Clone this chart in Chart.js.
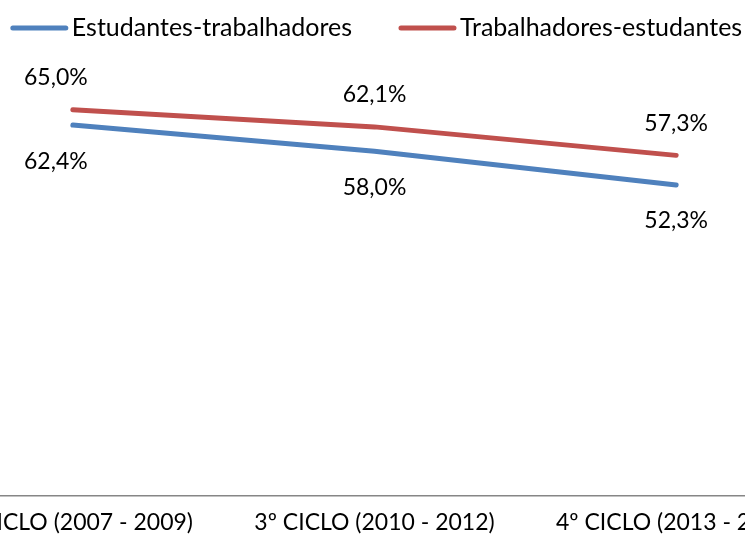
<!DOCTYPE html>
<html>
<head>
<meta charset="utf-8">
<script src="https://cdn.jsdelivr.net/npm/chart.js@4"></script>
<style>
    html, body { margin: 0; padding: 0; background: #fff; }
    .frame { position: relative; width: 745px; height: 542px; overflow: hidden; }
    .frame canvas { position: absolute; left: -78px; top: 0; }
</style>
</head>
<body>
<div class="frame">
    <canvas id="ciclos-chart" width="905" height="557"></canvas>
</div>
<script>
// Data
const categories = ['2º CICLO (2007 - 2009)', '3º CICLO (2010 - 2012)', '4º CICLO (2013 - 2015)'];
const estudantesTrabalhadores = [62.4, 58.0, 52.3];
const trabalhadoresEstudantes = [65.0, 62.1, 57.3];
const seriesNames = ['Estudantes-trabalhadores', 'Trabalhadores-estudantes'];

const FONT = 'Lato, "Open Sans", sans-serif';
const BLUE = '#4F81BD';
const RED = '#C0504D';

/* =====================================================
   Legend drawn at the top, Excel style (line + text)
   ===================================================== */
const lineLegend = {
    id: 'lineLegend',
    afterDraw(chart) {
        const ctx = chart.ctx;
        const lineW = 57, gap = 4, itemGap = 47, y = 28;
        ctx.save();
        ctx.font = '25px ' + FONT;
        const items = chart.data.datasets.map(ds => ({
            text: ds.label, color: ds.borderColor, w: ctx.measureText(ds.label).width
        }));
        let total = items.reduce((s, it) => s + lineW + gap + it.w, 0) + itemGap * (items.length - 1);
        let x = chart.width / 2 - total / 2 + 2;
        items.forEach(it => {
            ctx.strokeStyle = it.color;
            ctx.lineWidth = 5;
            ctx.lineCap = 'round';
            ctx.beginPath();
            ctx.moveTo(x + 2, y);
            ctx.lineTo(x + lineW - 2, y);
            ctx.stroke();
            ctx.fillStyle = '#000';
            ctx.textBaseline = 'middle';
            ctx.textAlign = 'left';
            ctx.fillText(it.text, x + lineW + gap, y);
            x += lineW + gap + it.w + itemGap;
        });
        ctx.restore();
    }
};

/* =====================================================
   Value labels: blue below the point, red above
   ===================================================== */
const valueLabels = {
    id: 'valueLabels',
    afterDatasetsDraw(chart) {
        const ctx = chart.ctx;
        ctx.save();
        ctx.font = '23px ' + FONT;
        ctx.fillStyle = '#000';
        ctx.textAlign = 'center';
        ctx.textBaseline = 'middle';
        chart.data.datasets.forEach((ds, i) => {
            const dy = i === 0 ? 36 : -32;
            chart.getDatasetMeta(i).data.forEach((pt, j) => {
                const dx = j === 0 ? -17 : 0;
                const txt = ds.data[j].toFixed(1).replace('.', ',') + '%';
                ctx.fillText(txt, pt.x + dx, pt.y + dy);
            });
        });
        ctx.restore();
    }
};

const ctx = document.getElementById('ciclos-chart').getContext('2d');
new Chart(ctx, {
    type: 'line',
    data: {
        labels: categories,
        datasets: [{
            label: seriesNames[0],
            data: estudantesTrabalhadores,
            borderColor: BLUE,
            backgroundColor: BLUE,
            borderWidth: 5,
            borderCapStyle: 'round',
            pointRadius: 0,
            tension: 0
        }, {
            label: seriesNames[1],
            data: trabalhadoresEstudantes,
            borderColor: RED,
            backgroundColor: RED,
            borderWidth: 5,
            borderCapStyle: 'round',
            pointRadius: 0,
            tension: 0
        }]
    },
    options: {
        responsive: false,
        animation: false,
        layout: { padding: { top: 80, bottom: 8, left: 0, right: 0 } },
        plugins: {
            legend: { display: false },
            tooltip: { enabled: false }
        },
        scales: {
            x: {
                offset: true,
                grid: { display: true, drawOnChartArea: false, drawTicks: false, color: 'rgba(0,0,0,0)' },
                border: { display: true, color: '#868686', width: 1.5 },
                ticks: { font: { family: FONT, size: 23 }, color: '#000', padding: 13, maxRotation: 0, autoSkip: false }
            },
            y: {
                display: false,
                min: 0,
                max: 70
            }
        }
    },
    plugins: [lineLegend, valueLabels]
});
</script>
</body>
</html>
